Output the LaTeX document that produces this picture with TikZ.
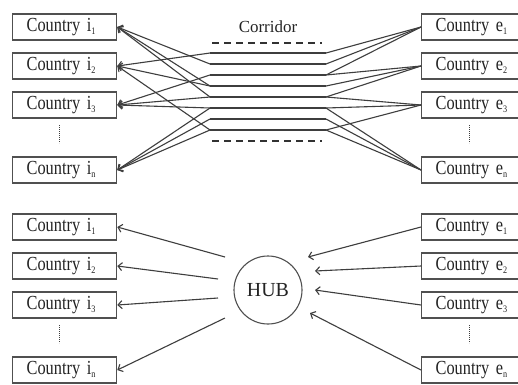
\documentclass[tikz,border=0pt]{standalone}
\usepackage{fontspec}
\setmainfont{Liberation Serif}
\newfontfamily\narrowserif[FakeStretch=0.82]{Liberation Serif}
\usetikzlibrary{arrows.meta}
\definecolor{ink}{RGB}{35,35,35}
\definecolor{wire}{RGB}{62,62,62}
\definecolor{frame}{RGB}{80,80,80}
% lowered small index after "i" / "e"
\newcommand\lowidx[1]{\raisebox{-3bp}{\fontsize{10}{10}\selectfont #1}}

\begin{document}
\begin{tikzpicture}[x=1bp,y=-1bp,
  country/.style={draw=frame, line width=1.3bp, minimum height=26bp,
    text width=76bp, align=left, inner xsep=14bp, inner ysep=0pt,
    font=\narrowserif\fontsize{20}{20}\selectfont, text=ink, anchor=west},
  link/.style={draw=wire, line width=1.1bp},
  tip/.style={link, -{Straight Barb[length=4bp,width=8bp]}},
  lane/.style={draw=wire, line width=1.25bp},
  edge lane/.style={draw=wire!80!black, line width=1.8bp, dash pattern=on 7bp off 5bp},
  ellip/.style={draw=wire, line width=1bp, dash pattern=on 1bp off 1bp},
]
\useasboundingbox[fill=white] (0,0) rectangle (518,384);

% ---------------- corridor model ----------------
\node[country] (i1) at (12,27)  {Country i\lowidx{1}};
\node[country] (i2) at (12,66)  {Country i\lowidx{2}};
\node[country] (i3) at (12,105) {Country i\lowidx{3}};
\node[country] (in) at (12,170) {Country i\lowidx{n}};
\node[country] (e1) at (421,27)  {Country e\lowidx{1}};
\node[country] (e2) at (421,66)  {Country e\lowidx{2}};
\node[country] (e3) at (421,105) {Country e\lowidx{3}};
\node[country] (en) at (421,170) {Country e\lowidx{n}};
\draw[ellip] (59,125) -- (59,143);
\draw[ellip] (469,125) -- (469,143);

\node[font=\fontsize{17}{17}\selectfont, text=ink, anchor=base] (corr) at (268,32) {Corridor};

% corridor lanes
\foreach \k/\y in {1/53,2/64,3/75,4/86,5/97,6/108,7/119,8/130}{
  \coordinate (L\k w) at (210,\y);
  \coordinate (L\k e) at (326,\y);
  \draw[lane] (L\k w) -- (L\k e);
}
\coordinate (dTw) at (212,43);  \coordinate (dTe) at (322,43);
\coordinate (dBw) at (212,141); \coordinate (dBe) at (322,141);
\draw[edge lane] (dTw) -- (dTe);
\draw[edge lane] (dBw) -- (dBe);

% lanes towards the importing countries
\foreach \k/\c in {2/i1,4/i1,5/i1,1/i2,4/i2,8/i2,3/i3,5/i3,6/i3,6/in,7/in,8/in}{
  \draw[tip] (L\k w) -- (\c.east);
}
% lanes from the exporting countries
\foreach \k/\c in {1/e1,2/e1,3/e1,3/e2,4/e2,5/e2,5/e3,6/e3,8/e3,6/en,7/en,8/en}{
  \draw[link] (L\k e) -- (\c.west);
}

% ---------------- hub model ----------------
\node[country] (hi1) at (12,227) {Country i\lowidx{1}};
\node[country] (hi2) at (12,266) {Country i\lowidx{2}};
\node[country] (hi3) at (12,305) {Country i\lowidx{3}};
\node[country] (hin) at (12,370) {Country i\lowidx{n}};
\node[country] (he1) at (421,227) {Country e\lowidx{1}};
\node[country] (he2) at (421,266) {Country e\lowidx{2}};
\node[country] (he3) at (421,305) {Country e\lowidx{3}};
\node[country] (hen) at (421,370) {Country e\lowidx{n}};
\draw[ellip] (59,325) -- (59,343);
\draw[ellip] (469,325) -- (469,343);

\node[draw=frame, line width=1.1bp, circle, minimum size=68bp, inner sep=0pt,
      font=\fontsize{20}{20}\selectfont, text=ink] (hub) at (268,290) {HUB};

\coordinate (o1) at (225,257);
\coordinate (o2) at (218,279);
\coordinate (o3) at (218,298);
\coordinate (o4) at (225,318);
\coordinate (r1) at (308,257);
\coordinate (r2) at (315,271);
\coordinate (r3) at (315,290);
\coordinate (r4) at (310,313);

\draw[tip] (o1) -- (hi1.east);
\draw[tip] (o2) -- (hi2.east);
\draw[tip] (o3) -- (hi3.east);
\draw[tip] (o4) -- (hin.east);
\draw[tip] (he1.west) -- (r1);
\draw[tip] (he2.west) -- (r2);
\draw[tip] (he3.west) -- (r3);
\draw[tip] (hen.west) -- (r4);
\end{tikzpicture}
\end{document}
